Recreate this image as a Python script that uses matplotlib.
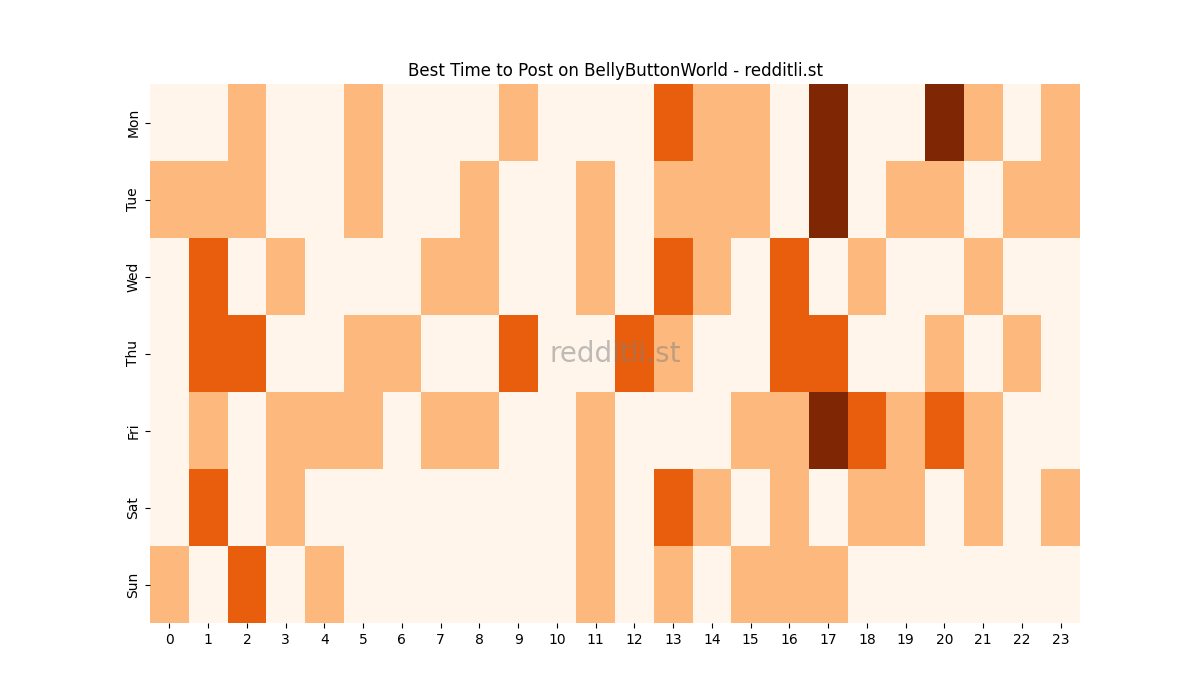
import numpy as np
import matplotlib
matplotlib.use("Agg")
import matplotlib.pyplot as plt
import seaborn as sns

days = ["Mon", "Tue", "Wed", "Thu", "Fri", "Sat", "Sun"]
hours = list(range(24))

mon = [0, 0, 1, 0, 0, 1, 0, 0, 0, 1, 0, 0, 0, 2, 1, 1, 0, 3, 0, 0, 3, 1, 0, 1]
tue = [1, 1, 1, 0, 0, 1, 0, 0, 1, 0, 0, 1, 0, 1, 1, 1, 0, 3, 0, 1, 1, 0, 1, 1]
wed = [0, 2, 0, 1, 0, 0, 0, 1, 1, 0, 0, 1, 0, 2, 1, 0, 2, 0, 1, 0, 0, 1, 0, 0]
thu = [0, 2, 2, 0, 0, 1, 1, 0, 0, 2, 0, 0, 2, 1, 0, 0, 2, 2, 0, 0, 1, 0, 1, 0]
fri = [0, 1, 0, 1, 1, 1, 0, 1, 1, 0, 0, 1, 0, 0, 0, 1, 1, 3, 2, 1, 2, 1, 0, 0]
sat = [0, 2, 0, 1, 0, 0, 0, 0, 0, 0, 0, 1, 0, 2, 1, 0, 1, 0, 1, 1, 0, 1, 0, 1]
sun = [1, 0, 2, 0, 1, 0, 0, 0, 0, 0, 0, 1, 0, 1, 0, 1, 1, 1, 0, 0, 0, 0, 0, 0]

grid = np.array([mon, tue, wed, thu, fri, sat, sun])

fig, ax = plt.subplots(figsize=(12, 7), dpi=100)
sns.heatmap(grid, cmap="Oranges", cbar=False, xticklabels=hours,
            yticklabels=days, ax=ax)
ax.set_yticklabels(days, rotation=90, va="center")
ax.set_xticklabels(hours, rotation=0)
ax.set_title("Best Time to Post on BellyButtonWorld - redditli.st")
ax.text(0.5, 0.5, "redditli.st", transform=ax.transAxes, fontsize=20,
        color="gray", alpha=0.5, ha="center", va="center")

fig.savefig("out.png")
